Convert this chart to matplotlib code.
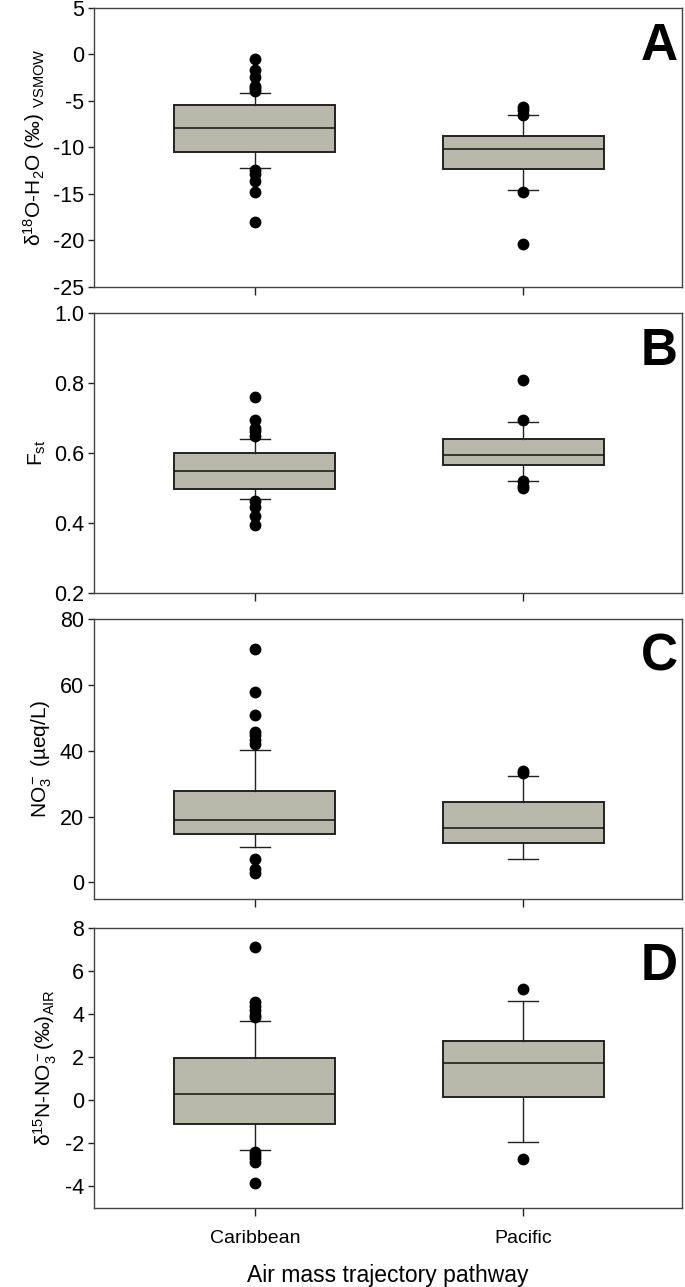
import matplotlib
matplotlib.use("Agg")
import matplotlib.pyplot as plt

plt.rcParams['font.family'] = ['Liberation Sans', 'DejaVu Sans']
plt.rcParams['mathtext.fontset'] = 'custom'
plt.rcParams['mathtext.rm'] = 'Liberation Sans'
plt.rcParams['mathtext.it'] = 'Liberation Sans'
plt.rcParams['mathtext.default'] = 'regular'
plt.rcParams['axes.unicode_minus'] = False

categories = ["Caribbean", "Pacific"]

# box statistics: q1, median, q3, whisker low, whisker high
a_stats = [(-10.47, -7.87, -5.41, -12.22, -4.1), (-12.35, -10.14, -8.75, -14.56, -6.47)]
a_fliers = [[-0.5, -1.68, -2.42, -3.35, -3.64, -3.9, -12.37, -12.9, -13.6, -14.8, -17.96],
            [-5.6, -5.95, -6.5, -14.8, -20.4]]

b_stats = [(0.496, 0.549, 0.601, 0.468, 0.639), (0.566, 0.595, 0.641, 0.519, 0.689)]
b_fliers = [[0.76, 0.695, 0.672, 0.663, 0.65, 0.463, 0.445, 0.421, 0.394],
            [0.81, 0.693, 0.52, 0.505, 0.5]]

c_stats = [(14.7, 19.1, 27.8, 10.8, 40.1), (12.1, 16.6, 24.4, 7.1, 32.4)]
c_fliers = [[70.8, 57.9, 50.9, 45.8, 44.8, 43.2, 42.0, 7.1, 4.1, 3.0],
            [33.9, 33.1]]

d_stats = [(-1.08, 0.28, 1.95, -2.31, 3.67), (0.15, 1.72, 2.77, -1.95, 4.61)]
d_fliers = [[7.12, 4.55, 4.38, 4.2, 3.96, 3.86, -2.38, -2.54, -2.69, -2.85, -3.82],
            [5.17, -2.74]]

panels = [
    ("A", a_stats, a_fliers, (-25, 5), [-25, -20, -15, -10, -5, 0, 5], None,
     'δ$^{18}$O-H$_2$O (‰) $_{\\mathrm{VSMOW}}$'),
    ("B", b_stats, b_fliers, (0.2, 1.0), [0.2, 0.4, 0.6, 0.8, 1.0], "{:.1f}",
     'F$_{\\mathrm{st}}$'),
    ("C", c_stats, c_fliers, (-5, 80), [0, 20, 40, 60, 80], None,
     'NO$_3^-$ (µeq/L)'),
    ("D", d_stats, d_fliers, (-5, 8), [-4, -2, 0, 2, 4, 6, 8], None,
     'δ$^{15}$N-NO$_3^-$(‰)$_{\\mathrm{AIR}}$'),
]

# axes rectangles in figure fractions (left, bottom, width, height)
rects = [(0.137, 0.777, 0.858, 0.2168),
         (0.137, 0.5392, 0.858, 0.2176),
         (0.137, 0.3015, 0.858, 0.2176),
         (0.137, 0.0614, 0.858, 0.2176)]

fig = plt.figure(figsize=(6.85, 12.87), dpi=100)
for (letter, stats, fliers, ylim, yticks, fmt, ylabel), rect in zip(panels, rects):
    ax = fig.add_axes(rect)
    bxp = []
    for name, s, f in zip(categories, stats, fliers):
        bxp.append({'label': name, 'q1': s[0], 'med': s[1], 'q3': s[2],
                    'whislo': s[3], 'whishi': s[4], 'fliers': f})
    ax.bxp(bxp, positions=[1, 2], widths=0.6, capwidths=0.11, patch_artist=True,
           boxprops=dict(facecolor='#b8b9aa', edgecolor='#222222', linewidth=1.4),
           medianprops=dict(color='#111111', linewidth=1.1),
           whiskerprops=dict(color='#222222', linewidth=1.0),
           capprops=dict(color='#222222', linewidth=1.0),
           flierprops=dict(marker='o', markerfacecolor='black', markeredgecolor='black',
                           markersize=7.5))
    ax.set_xlim(0.4, 2.59)
    ax.set_ylim(*ylim)
    ax.set_yticks(yticks)
    if fmt:
        ax.set_yticklabels([fmt.format(t) for t in yticks])
    ax.set_xticks([1, 2])
    if letter == "D":
        ax.set_xticklabels(categories)
        ax.set_xlabel("Air mass trajectory pathway", fontsize=16.5, labelpad=12)
    else:
        ax.set_xticklabels([])
    ax.tick_params(axis='y', direction='out', length=4, width=1, labelsize=15.5,
                   colors='#222222', labelcolor='black', pad=3)
    ax.tick_params(axis='x', direction='out', length=6, width=1, labelsize=14,
                   colors='#222222', labelcolor='black', pad=10)
    for sp in ax.spines.values():
        sp.set_color('#444444')
        sp.set_linewidth(1.0)
    ax.set_ylabel(ylabel, fontsize=15, labelpad=4)
    ax.text(0.993, 0.95, letter, transform=ax.transAxes, ha='right', va='top',
            fontsize=37, fontweight='bold')

fig.savefig("out.png", dpi=100)
